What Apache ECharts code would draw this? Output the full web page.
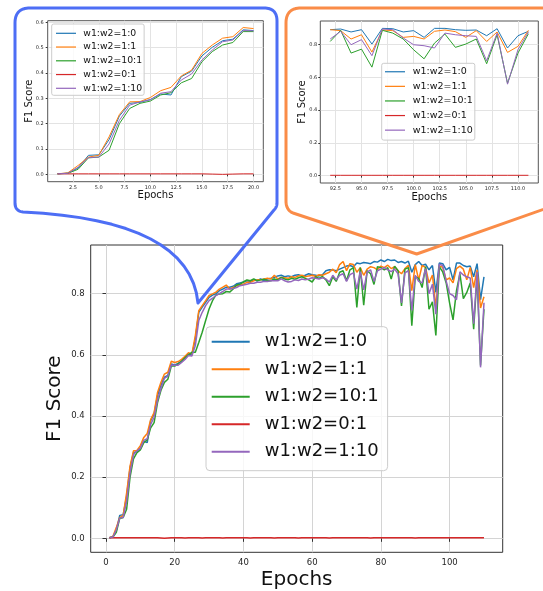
<!DOCTYPE html>
<html><head><meta charset="utf-8">
<script src="https://cdn.jsdelivr.net/npm/echarts@6/dist/echarts.min.js"></script>
<style>html,body{margin:0;padding:0;background:#fff}#c{width:543px;height:591px}</style>
</head><body><div id="c"></div>
<script>
// ---------- data ----------
const seriesNames = ['w1:w2=1:0', 'w1:w2=1:1', 'w1:w2=10:1', 'w1:w2=0:1', 'w1:w2=1:10'];
const epochs = Array.from({length: 111}, (_, i) => i + 1);

const f1_1_0 = [
  0.002,0.005,0.025,0.075,0.077,0.137,0.23,0.28,0.284,0.295,0.317,0.313,0.385,0.407,0.467,0.501,0.527,0.533,0.57,0.567,
  0.572,0.58,0.592,0.603,0.6,0.652,0.739,0.756,0.772,0.788,
  0.795,0.8,0.81,0.815,0.821,0.821,0.824,0.832,0.835,0.838,
  0.842,0.84,0.845,0.842,0.848,0.842,0.848,0.85,0.853,0.858,
  0.86,0.855,0.858,0.855,0.86,0.862,0.858,0.86,0.865,0.862,
  0.86,0.858,0.862,0.875,0.878,0.877,0.875,0.88,0.885,0.89,
  0.892,0.888,0.9,0.898,0.902,0.9,0.898,0.905,0.903,0.91,
  0.905,0.912,0.908,0.91,0.902,0.905,0.9,0.906,0.87,0.895,0.905,
  0.892,0.896,0.878,0.892,0.804,0.9,0.898,0.878,0.886,0.845,0.9,0.9,0.892,0.888,0.89,0.855,0.898,0.78,0.855,0.882
];
const f1_1_1 = [
  0.002,0.006,0.035,0.068,0.075,0.148,0.236,0.286,0.287,0.303,0.33,0.343,0.388,0.411,0.477,0.51,0.537,0.543,0.579,0.575,
  0.578,0.585,0.595,0.607,0.603,0.663,0.744,0.761,0.777,0.794,
  0.799,0.805,0.815,0.821,0.828,0.815,0.82,0.826,0.828,0.831,
  0.837,0.837,0.842,0.845,0.845,0.848,0.85,0.848,0.86,0.848,
  0.853,0.852,0.85,0.855,0.853,0.858,0.86,0.855,0.858,0.86,
  0.856,0.862,0.86,0.865,0.87,0.88,0.868,0.895,0.905,0.875,
  0.898,0.895,0.87,0.885,0.86,0.88,0.888,0.885,0.878,0.89,
  0.885,0.893,0.882,0.888,0.875,0.865,0.882,0.893,0.81,0.895,0.845,
  0.892,0.886,0.835,0.861,0.755,0.89,0.886,0.845,0.851,0.835,0.882,0.89,0.88,0.845,0.886,0.82,0.878,0.753,0.79,0.888
];
const f1_10_1 = [
  0.002,0.004,0.02,0.065,0.068,0.095,0.2,0.26,0.28,0.289,0.313,0.322,0.361,0.378,0.444,0.484,0.51,0.52,0.563,0.563,
  0.57,0.578,0.59,0.6,0.608,0.608,0.64,0.674,0.712,0.75,
  0.777,0.796,0.799,0.8,0.807,0.805,0.815,0.828,0.831,0.838,
  0.845,0.842,0.848,0.842,0.845,0.847,0.842,0.842,0.848,0.845,
  0.853,0.848,0.845,0.85,0.847,0.852,0.855,0.85,0.845,0.838,
  0.855,0.85,0.856,0.845,0.826,0.855,0.84,0.87,0.875,0.842,
  0.878,0.885,0.755,0.885,0.762,0.875,0.865,0.83,0.888,0.885,
  0.878,0.885,0.848,0.89,0.875,0.76,0.88,0.885,0.695,0.855,0.85,
  0.82,0.888,0.749,0.773,0.663,0.888,0.871,0.835,0.769,0.714,0.81,0.865,0.784,0.804,0.835,0.684,0.861,0.565,0.749,0.867
];
const f1_0_1 = [
  0.002,0.002,0.002,0.002,0.002,0.002,0.002,0.002,0.002,0.002,0.002,0.002,0.002,0.002,0.002,0.001,0.0,0.001,0.002,0.002,
  0.002,0.002,0.001,0.002,0.002,0.002,0.002,0.001,0.002,0.002,
  0.002,0.002,0.002,0.001,0.002,0.002,0.002,0.002,0.002,0.002,
  0.002,0.001,0.002,0.002,0.002,0.002,0.002,0.002,0.001,0.002,
  0.002,0.002,0.002,0.002,0.002,0.001,0.002,0.002,0.002,0.002,
  0.002,0.002,0.002,0.002,0.001,0.002,0.002,0.002,0.002,0.002,
  0.002,0.002,0.002,0.002,0.002,0.002,0.001,0.002,0.002,0.002,
  0.002,0.002,0.002,0.002,0.002,0.002,0.002,0.002,0.002,0.001,0.002,
  0.002,0.002,0.002,0.002,0.002,0.002,0.002,0.002,0.002,0.002,0.002,0.002,0.002,0.002,0.002,0.002,0.002,0.002,0.002,0.002
];
const f1_1_10 = [
  0.002,0.004,0.028,0.066,0.068,0.12,0.213,0.273,0.286,0.294,0.32,0.326,0.372,0.396,0.451,0.49,0.523,0.53,0.567,0.566,
  0.566,0.575,0.585,0.598,0.596,0.63,0.712,0.739,0.761,0.777,
  0.785,0.794,0.8,0.807,0.815,0.815,0.817,0.82,0.826,0.828,
  0.831,0.834,0.834,0.837,0.837,0.84,0.84,0.842,0.842,0.842,
  0.848,0.842,0.838,0.84,0.845,0.843,0.848,0.845,0.848,0.852,
  0.85,0.848,0.852,0.848,0.838,0.86,0.845,0.86,0.865,0.84,
  0.862,0.868,0.815,0.872,0.812,0.87,0.878,0.84,0.875,0.88,
  0.885,0.878,0.872,0.88,0.865,0.77,0.868,0.875,0.745,0.86,0.84,
  0.835,0.882,0.8,0.831,0.733,0.896,0.892,0.841,0.8,0.794,0.78,0.871,0.861,0.855,0.851,0.702,0.871,0.559,0.77,0.878
];
const seriesValues = [f1_1_0, f1_1_1, f1_10_1, f1_0_1, f1_1_10];

// tick labels
const mainXTicks = [0, 20, 40, 60, 80, 100];
const mainYTicks = [0.0, 0.2, 0.4, 0.6, 0.8];
const leftXTicks = [2.5, 5.0, 7.5, 10.0, 12.5, 15.0, 17.5, 20.0];
const leftYTicks = [0.0, 0.1, 0.2, 0.3, 0.4, 0.5, 0.6];
const rightXTicks = [92.5, 95.0, 97.5, 100.0, 102.5, 105.0, 107.5, 110.0];
const rightYTicks = [0.0, 0.2, 0.4, 0.6, 0.8];

// epoch ranges shown in each panel
const mainRange = [1, 110];
const leftRange = [1, 20];
const rightRange = [92, 111];

// ---------- styling ----------
const colors = ['#1f77b4', '#ff7f0e', '#2ca02c', '#d62728', '#9467bd'];
const FONT = 'DejaVu Sans';

function axis(gridIndex, min, max, ticks, decimals, o) {
  return {
    type: 'value', gridIndex, min, max,
    axisLine: { show: false },
    axisTick: { show: true, inside: false, length: o.tick, customValues: ticks,
      lineStyle: { color: '#333', width: 1 } },
    axisLabel: { show: true, customValues: ticks, margin: o.margin, fontSize: o.fs, fontFamily: FONT, color: '#262626',
      formatter: v => Number(v).toFixed(decimals) },
    splitLine: { show: true, lineStyle: { color: o.grid, width: 1 } },
    name: o.name, nameLocation: 'middle', nameGap: o.nameGap, nameMoveOverlap: false,
    nameTextStyle: { fontSize: o.nameFs, fontFamily: FONT, color: '#111' }
  };
}

function slice(arr, r) { return arr.slice(r[0] - 1, r[1]); }
function pairs(vals, r) {
  const xs = slice(epochs, r), ys = slice(vals, r);
  return xs.map((x, i) => [x, ys[i]]);
}

const series = [];
const panels = [
  { range: mainRange, idx: 0, lw: 1.5 },
  { range: leftRange, idx: 1, lw: 1 },
  { range: rightRange, idx: 2, lw: 1 }
];
panels.forEach(p => {
  seriesNames.forEach((n, k) => {
    series.push({
      type: 'line', name: n, xAxisIndex: p.idx, yAxisIndex: p.idx,
      data: pairs(seriesValues[k], p.range),
      symbol: 'none', showSymbol: false, silent: true,
      lineStyle: { width: p.lw, color: colors[k] }, itemStyle: { color: colors[k] }
    });
  });
});

function legend(o) {
  return {
    orient: 'vertical', left: o.left, top: o.top, icon: 'rect',
    itemWidth: o.iw, itemHeight: o.ih, itemGap: o.gap,
    padding: o.pad, backgroundColor: 'rgba(255,255,255,0.8)',
    borderColor: '#cccccc', borderWidth: 1, borderRadius: o.br,
    selectedMode: false, data: seriesNames,
    textStyle: { fontSize: o.fs, fontFamily: FONT, color: '#111', lineHeight: o.lh, padding: [0, 0, 0, o.tp] }
  };
}

// callout outlines: segments of straight lines (L) and quadratic curves (Q), flattened to polylines
function outline(start, segs) {
  const pts = [start.slice()];
  let cur = start;
  segs.forEach(s => {
    if (s[0] === 'L') { pts.push([s[1], s[2]]); cur = [s[1], s[2]]; }
    else {
      const c = [s[1], s[2]], e = [s[3], s[4]];
      for (let i = 1; i <= 16; i++) {
        const t = i / 16, u = 1 - t;
        pts.push([u*u*cur[0] + 2*u*t*c[0] + t*t*e[0], u*u*cur[1] + 2*u*t*c[1] + t*t*e[1]]);
      }
      cur = e;
    }
  });
  return pts;
}
const bluePts = outline([15, 23], [
  ['Q', 15, 8, 30, 8], ['L', 264, 8], ['Q', 277, 8, 277, 21], ['L', 277, 203], ['Q', 277, 207, 274, 210],
  ['L', 198, 303], ['Q', 190, 220, 23, 212], ['Q', 15, 211, 15, 203], ['L', 15, 23]
]);
const orangePts = outline([286, 23], [
  ['Q', 286, 8, 301, 8], ['L', 570, 8], ['L', 570, 200], ['L', 416.7, 254], ['L', 293, 213],
  ['Q', 286, 210, 286, 201], ['L', 286, 23]
]);

const gridBase = { show: true, borderWidth: 1, backgroundColor: 'transparent', containLabel: false, outerBoundsMode: 'none' };

const option = {
  animation: false,
  backgroundColor: '#ffffff',
  color: colors,
  grid: [
    Object.assign({ left: 90.7, top: 245, width: 412, height: 307.3, borderColor: '#333' }, gridBase),
    Object.assign({ left: 47.7, top: 20.7, width: 215.6, height: 161, borderColor: '#555' }, gridBase),
    Object.assign({ left: 320.3, top: 21, width: 218, height: 162, borderColor: '#555' }, gridBase)
  ],
  xAxis: [
    axis(0, -4.45, 115.45, mainXTicks, 0, { tick: 3.5, margin: 6, fs: 8.5, grid: '#d4d4d4', name: 'Epochs', nameGap: 17, nameFs: 20 }),
    axis(1, 0.05, 20.95, leftXTicks, 1, { tick: 2, margin: 3.5, fs: 5, grid: '#e3e3e3', name: 'Epochs', nameGap: 9, nameFs: 10 }),
    axis(2, 91.05, 111.95, rightXTicks, 1, { tick: 2, margin: 3, fs: 5, grid: '#e3e3e3', name: 'Epochs', nameGap: 9, nameFs: 10 })
  ],
  yAxis: [
    axis(0, -0.0457, 0.959, mainYTicks, 1, { tick: 3.5, margin: 6, fs: 8.5, grid: '#d4d4d4', name: 'F1 Score', nameGap: 26, nameFs: 20 }),
    axis(1, -0.029, 0.606, leftYTicks, 1, { tick: 2, margin: 4, fs: 5, grid: '#e3e3e3', name: 'F1 Score', nameGap: 13.5, nameFs: 10 }),
    axis(2, -0.045, 0.945, rightYTicks, 1, { tick: 2, margin: 3, fs: 5, grid: '#e3e3e3', name: 'F1 Score', nameGap: 13, nameFs: 10 })
  ],
  legend: [
    legend({ left: 206, top: 326.7, iw: 38, ih: 2, gap: 7.5, lh: 20, fs: 18, tp: 10, pad: [5, 9, 9, 5.7], br: 4 }),
    legend({ left: 51.7, top: 24, iw: 20, ih: 1.2, gap: 2.75, lh: 11, fs: 9.3, tp: 2.3, pad: [3.8, 2, 1.5, 4.3], br: 2 }),
    legend({ left: 381.7, top: 63.3, iw: 20, ih: 1.2, gap: 3.1, lh: 11.5, fs: 9.5, tp: 2.7, pad: [2.7, 2, 4.2, 3.3], br: 2 })
  ],
  graphic: [
    { type: 'polyline', z: 100, shape: { points: bluePts }, style: { fill: null, stroke: '#4d6ef5', lineWidth: 3, lineJoin: 'round' } },
    { type: 'polyline', z: 100, shape: { points: orangePts }, style: { fill: null, stroke: '#fa8c48', lineWidth: 3, lineJoin: 'round' } }
  ],
  series
};

const chart = echarts.init(document.getElementById('c'), null, { renderer: 'canvas' });
chart.setOption(option);
</script>
</body></html>
